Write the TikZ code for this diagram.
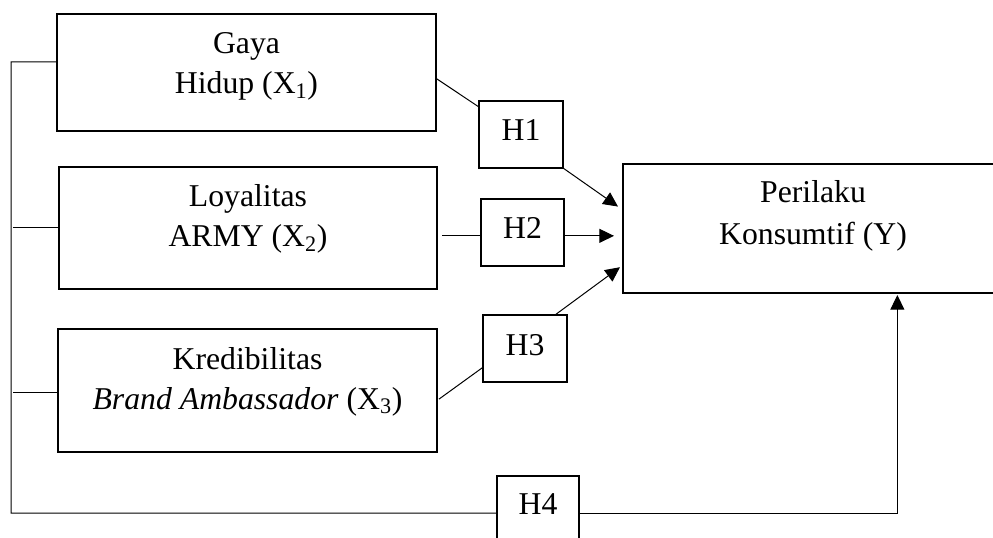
\documentclass[tikz,border=0pt]{standalone}
\usepackage{fontspec}
\setmainfont{Liberation Serif}
\usetikzlibrary{calc,arrows.meta}
\begin{document}
\begin{tikzpicture}[x=0.75pt,y=-0.75pt,
  box/.style={draw=black,line width=1pt,inner sep=0pt,outer sep=0pt},
  txt/.style={font=\fontsize{23.8pt}{30pt}\selectfont,inner sep=0pt,anchor=base},
  hbox/.style={box,font=\fontsize{23.8pt}{30pt}\selectfont},
  conn/.style={draw=black,line width=0.75pt},
  arr/.style={conn,-{Triangle[length=11pt,width=10.5pt]}}]
\useasboundingbox (0,0) rectangle (993,538);
\clip (0,0) rectangle (993,538);
% variable boxes
\node[box,minimum width=379*0.75pt,minimum height=117*0.75pt] (x1) at (246.5,72.5) {};
\node[box,minimum width=378*0.75pt,minimum height=122*0.75pt] (x2) at (248,228) {};
\node[box,minimum width=379*0.75pt,minimum height=123*0.75pt] (x3) at (247.5,390.5) {};
\node[box,minimum width=380*0.75pt,minimum height=129*0.75pt] (y) at (813,228.5) {};
% texts
\node[txt] (x1a) at (246.5,54) {Gaya};
\node[txt] (x1b) at (246.5,94) {Hidup (X\textsubscript{1})};
\node[txt] (x2a) at (248,207) {Loyalitas};
\node[txt] (x2b) at (248,247) {ARMY (X\textsubscript{2})};
\node[txt] (x3a) at (247.5,369) {Kredibilitas};
\node[txt] (x3b) at (247.5,409) {\textit{Brand Ambassador} (X\textsubscript{3})};
\node[txt] (ya) at (813,203) {Perilaku};
\node[txt] (yb) at (813,245) {Konsumtif (Y)};
% hypothesis boxes
\node[hbox,minimum width=84*0.75pt,minimum height=67*0.75pt,text depth=6pt] (h1) at (521,134.5) {H1};
\node[hbox,minimum width=83*0.75pt,minimum height=67*0.75pt,text depth=7.5pt] (h2) at (522.5,232.5) {H2};
\node[hbox,minimum width=84*0.75pt,minimum height=67*0.75pt,text depth=6pt] (h3) at (525,348.5) {H3};
\node[hbox,minimum width=82*0.75pt,minimum height=74*0.75pt,text depth=12.75pt] (h4) at (538,513) {H4};
% helper coordinates
\coordinate (lt) at (11,62);
\coordinate (lb) at (11,513);
\coordinate (x1l) at ($(x1.north west)!0.41!(x1.south west)$);
\coordinate (x3l) at ($(x3.north west)!0.52!(x3.south west)$);
\coordinate (x1r) at ($(x1.north east)!0.55!(x1.south east)$);
\coordinate (h1l) at ($(h1.north west)!0.09!(h1.south west)$);
\coordinate (y1) at ($(y.north west)!0.33!(y.south west)$);
\coordinate (h2l) at ($(h2.north west)!0.55!(h2.south west)$);
\coordinate (h2r) at ($(h2.north east)!0.55!(h2.south east)$);
\coordinate (h3t) at ($(h3.north west)!0.857!(h3.north east)$);
\coordinate (y3) at ($(y.north west)!0.80!(y.south west)$);
\coordinate (x3r) at ($(x3.north east)!0.57!(x3.south east)$);
\coordinate (h3l) at ($(h3.north west)!0.78!(h3.south west)$);
\coordinate (yb4) at ($(y.south west)!0.722!(y.south east)$);
% connectors
\draw[conn] (x1l) -- (lt) -- (lb) -- (h4.west);
\draw[conn] ([xshift=1.5pt]lt |- x2.west) -- (x2.west);
\draw[conn] ([xshift=1.5pt]lt |- x3l) -- (x3l);
\draw[conn] (x1r) -- (h1l);
\draw[arr] (h1.south east) -- ([xshift=-3.75pt]y1);
\draw[conn] ([xshift=3.75pt]x2.east |- h2l) -- (h2l);
\draw[arr] (h2r) -- ([xshift=-6.75pt]y.west |- h2r);
\draw[conn] ([xshift=1.5pt]x3r) -- (h3l);
\draw[arr] (h3t) -- ([xshift=-2.25pt]y3);
\draw[arr] (h4.east) -| ([yshift=-1.5pt]yb4);
\end{tikzpicture}
\end{document}
